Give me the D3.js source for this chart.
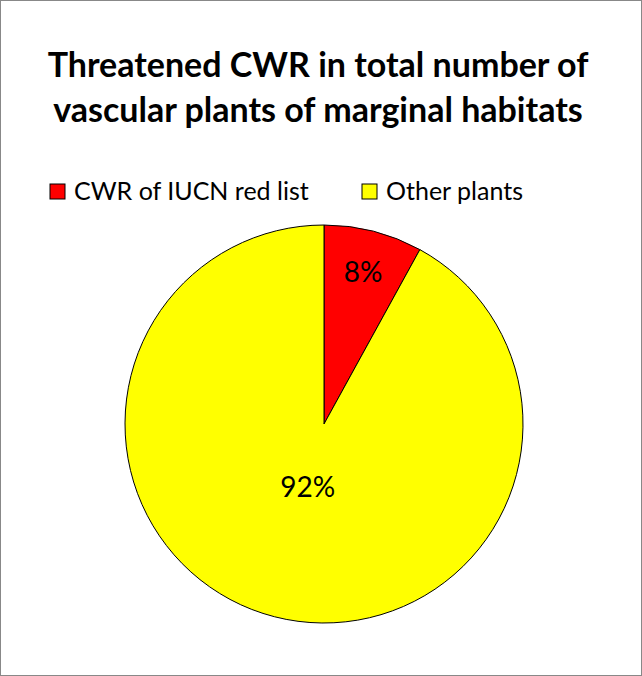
<!DOCTYPE html>
<html><head><meta charset="utf-8">
<script src="https://cdn.jsdelivr.net/npm/d3@7"></script>
<style>body{margin:0;background:#fff}</style>
</head><body>
<svg id="c" width="642" height="676"></svg>
<script>
const categories = ["CWR of IUCN red list", "Other plants"];
const values = [8, 92];
const colors = ["#ff0000", "#ffff00"];
const titleLines = ["Threatened CWR in total number of", "vascular plants of marginal habitats"];

const svg = d3.select("#c");
const font = "Lato, 'Open Sans', sans-serif";
svg.append("rect").attr("x",0.5).attr("y",0.5).attr("width",641).attr("height",675)
  .attr("fill","#fff").attr("stroke","#888");

svg.selectAll("text.t").data(titleLines).join("text").attr("class","t")
  .attr("x",318).attr("y",(d,i)=>77+i*45).attr("text-anchor","middle")
  .attr("font-family",font).attr("font-weight","bold").attr("font-size",34).text(d=>d);

const lx = [50, 362];
const lg = svg.selectAll("g.l").data(categories).join("g").attr("class","l")
  .attr("transform",(d,i)=>`translate(${lx[i]},184)`);
lg.append("rect").attr("width",15).attr("height",15).attr("fill",(d,i)=>colors[i]).attr("stroke","#000");
lg.append("text").attr("x",24).attr("y",16).attr("font-family",font).attr("font-size",25).text(d=>d);

const cx=324, cy=424, r=199;
const pie = d3.pie().sort(null)(values);
const arc = d3.arc().innerRadius(0).outerRadius(r);
const g = svg.append("g").attr("transform",`translate(${cx},${cy})`);
g.selectAll("path").data(pie).join("path").attr("d",arc)
  .attr("fill",(d,i)=>colors[i]).attr("stroke","#000").attr("stroke-width",1);
const rads = [0.79, 0.33];
g.selectAll("text").data(pie).join("text")
  .attr("transform",(d,i)=>`translate(${d3.arc().innerRadius(r*rads[i]).outerRadius(r*rads[i]).centroid(d)})`)
  .attr("text-anchor","middle").attr("dy","0.35em")
  .attr("font-family",font).attr("font-size",28).text(d=>d.data+"%");
</script>
</body></html>
